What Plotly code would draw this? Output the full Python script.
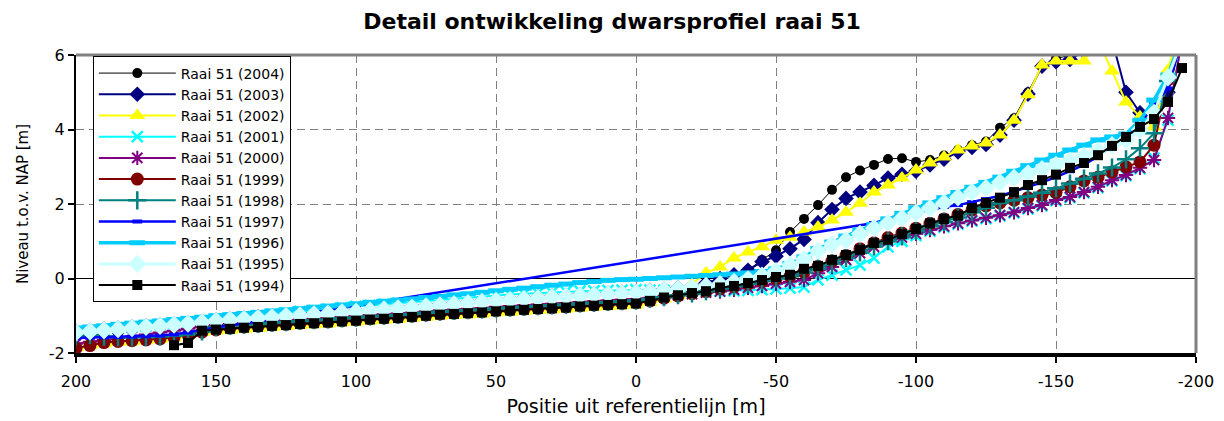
import plotly.graph_objects as go

# Position along the profile [m] (shared by all surveys)
X = [200, 195, 190, 185, 180, 175, 170, 165, 160, 155,
     150, 145, 140, 135, 130, 125, 120, 115, 110, 105,
     100, 95, 90, 85, 80, 75, 70, 65, 60, 55,
     50, 45, 40, 35, 30, 25, 20, 15, 10, 5,
     0, -5, -10, -15, -20, -25, -30, -35, -40, -45,
     -50, -55, -60, -65, -70, -75, -80, -85, -90, -95,
     -100, -105, -110, -115, -120, -125, -130, -135, -140, -145,
     -150, -155, -160, -165, -170, -175, -180, -185, -190, -195]

Y_2004 = [-1.45, -1.42, -1.39, -1.36, -1.33, -1.30, -1.27, -1.24, -1.21, -1.18,
          -1.14, -1.11, -1.09, -1.06, -1.04, -1.01, -0.99, -0.96, -0.94, -0.91,
          -0.89, -0.86, -0.83, -0.80, -0.78, -0.75, -0.72, -0.69, -0.66, -0.63,
          -0.60, -0.58, -0.55, -0.53, -0.50, -0.48, -0.46, -0.44, -0.42, -0.40,
          -0.38, -0.35, -0.32, -0.28, -0.24, -0.15, -0.05, 0.05, 0.23, 0.50,
          0.76, 1.25, 1.60, 1.97, 2.38, 2.72, 2.90, 3.05, 3.21, 3.23,
          3.13, 3.18, 3.30, 3.45, 3.58, 3.68, 4.05, 4.30, 5.00, 5.70,
          5.90, 6.00, 6.30, 6.90, None, None, None, None, None, None]

Y_2003 = [-1.42, -1.39, -1.36, -1.33, -1.30, -1.27, -1.24, -1.21, -1.18, -1.15,
          -1.11, -1.08, -1.06, -1.03, -1.01, -0.98, -0.96, -0.93, -0.91, -0.88,
          -0.86, -0.83, -0.80, -0.77, -0.75, -0.72, -0.69, -0.66, -0.63, -0.60,
          -0.57, -0.55, -0.52, -0.50, -0.47, -0.45, -0.43, -0.41, -0.39, -0.37,
          -0.35, -0.32, -0.29, -0.25, -0.21, -0.12, 0.00, 0.10, 0.22, 0.45,
          0.60, 0.80, 1.05, 1.50, 1.85, 2.15, 2.32, 2.50, 2.70, 2.80,
          2.88, 3.05, 3.20, 3.40, 3.52, 3.60, 3.85, 4.25, 4.95, 5.70,
          5.82, 5.88, 6.10, 6.70, 6.40, 5.00, 4.45, 4.50, 5.00, 6.50]

Y_2002 = [-1.85, -1.80, -1.75, -1.72, -1.70, -1.67, -1.64, -1.60, -1.52, -1.44,
          -1.41, -1.39, -1.36, -1.34, -1.31, -1.29, -1.26, -1.24, -1.22, -1.19,
          -1.17, -1.14, -1.12, -1.10, -1.07, -1.04, -1.01, -0.99, -0.97, -0.95,
          -0.92, -0.90, -0.88, -0.86, -0.84, -0.82, -0.79, -0.77, -0.75, -0.73,
          -0.71, -0.64, -0.55, -0.45, -0.15, 0.15, 0.31, 0.55, 0.71, 0.85,
          1.03, 1.11, 1.25, 1.38, 1.57, 1.78, 2.02, 2.32, 2.51, 2.70,
          2.91, 3.10, 3.26, 3.45, 3.56, 3.64, 3.85, 4.25, 4.93, 5.73,
          5.84, 5.84, 5.84, 6.40, 5.57, 4.74, 4.34, 4.07, 5.60, 7.00]

Y_2001 = [-1.45, -1.42, -1.38, -1.35, -1.31, -1.28, -1.24, -1.21, -1.17, -1.14,
          -1.10, -1.07, -1.03, -1.00, -0.96, -0.93, -0.89, -0.86, -0.82, -0.79,
          -0.75, -0.72, -0.69, -0.66, -0.63, -0.60, -0.57, -0.54, -0.51, -0.48,
          -0.45, -0.43, -0.41, -0.39, -0.37, -0.35, -0.34, -0.33, -0.32, -0.31,
          -0.30, -0.31, -0.32, -0.33, -0.34, -0.34, -0.34, -0.33, -0.32, -0.30,
          -0.28, -0.26, -0.23, -0.04, 0.09, 0.23, 0.36, 0.55, 0.85, 1.00,
          1.15, 1.27, 1.38, 1.46, 1.54, 1.61, 1.68, 1.76, 1.87, 1.95,
          2.09, 2.17, 2.30, 2.44, 2.62, 2.76, 2.95, 3.23, 4.25, 6.40]

Y_2000 = [-1.75, -1.70, -1.65, -1.60, -1.55, -1.50, -1.45, -1.40, -1.35, -1.28,
          -1.25, -1.22, -1.20, -1.18, -1.15, -1.13, -1.10, -1.08, -1.06, -1.03,
          -1.01, -0.98, -0.96, -0.94, -0.91, -0.88, -0.85, -0.83, -0.81, -0.79,
          -0.76, -0.74, -0.72, -0.70, -0.68, -0.66, -0.63, -0.61, -0.59, -0.57,
          -0.55, -0.52, -0.48, -0.45, -0.42, -0.38, -0.35, -0.30, -0.25, -0.20,
          -0.14, -0.09, -0.04, 0.14, 0.31, 0.50, 0.68, 0.85, 1.00, 1.10,
          1.20, 1.30, 1.40, 1.48, 1.56, 1.63, 1.70, 1.78, 1.89, 1.97,
          2.11, 2.19, 2.32, 2.46, 2.64, 2.78, 2.97, 3.18, 4.31, 6.40]

Y_1999 = [-1.87, -1.80, -1.72, -1.69, -1.67, -1.65, -1.62, -1.58, -1.52, -1.44,
          -1.38, -1.33, -1.30, -1.28, -1.25, -1.23, -1.20, -1.18, -1.16, -1.13,
          -1.11, -1.08, -1.06, -1.04, -1.01, -0.98, -0.95, -0.93, -0.91, -0.89,
          -0.86, -0.84, -0.82, -0.80, -0.78, -0.76, -0.73, -0.71, -0.69, -0.67,
          -0.65, -0.60, -0.53, -0.47, -0.41, -0.35, -0.28, -0.22, -0.15, -0.08,
          -0.01, 0.06, 0.18, 0.32, 0.47, 0.62, 0.80, 0.96, 1.10, 1.22,
          1.35, 1.48, 1.60, 1.72, 1.84, 1.95, 2.03, 2.10, 2.17, 2.24,
          2.31, 2.46, 2.62, 2.72, 2.86, 3.00, 3.13, 3.58, 5.33, 6.50]

Y_1998 = [-1.55, -1.52, -1.56, -1.58, -1.58, -1.57, -1.56, -1.54, -1.50, -1.42,
          -1.30, -1.27, -1.24, -1.22, -1.19, -1.17, -1.14, -1.12, -1.10, -1.07,
          -1.05, -1.02, -1.00, -0.98, -0.95, -0.92, -0.89, -0.87, -0.85, -0.83,
          -0.80, -0.78, -0.76, -0.74, -0.72, -0.70, -0.67, -0.65, -0.63, -0.61,
          -0.59, -0.55, -0.50, -0.45, -0.40, -0.34, -0.27, -0.21, -0.14, -0.07,
          0.00, 0.06, 0.16, 0.27, 0.40, 0.55, 0.70, 0.86, 1.00, 1.13,
          1.27, 1.40, 1.52, 1.64, 1.78, 1.90, 2.03, 2.10, 2.20, 2.30,
          2.42, 2.55, 2.68, 2.82, 2.98, 3.20, 3.50, 3.90, 5.30, 6.50]

Y_1997 = [-1.60, -1.59, -1.58, -1.57, -1.56, -1.55, -1.53, -1.50, -1.45, -1.38,
          -1.31, -1.26, -1.21, -1.15, -1.09, -1.03, -0.97, -0.91, -0.85, -0.79,
          -0.73, -0.67, -0.61, None, None, None, None, None, None, None,
          None, None, None, None, None, None, None, None, None, None,
          None, None, None, None, None, None, None, None, None, None,
          None, None, None, None, None, None, None, 1.49, 1.60, 1.68,
          1.76, 1.85, 1.92, 1.97, 2.05, 2.13, 2.22, 2.33, 2.45, 2.58,
          2.72, 2.88, 3.05, 3.28, 3.55, 3.83, 4.10, 4.70, 5.10, 6.50]

Y_1996 = [-1.33, -1.30, -1.27, -1.23, -1.20, -1.17, -1.14, -1.10, -1.07, -1.04,
          -1.00, -0.97, -0.94, -0.91, -0.87, -0.84, -0.81, -0.77, -0.74, -0.71,
          -0.68, -0.64, -0.61, -0.58, -0.55, -0.51, -0.48, -0.44, -0.41, -0.37,
          -0.33, -0.29, -0.26, -0.22, -0.18, -0.15, -0.11, -0.08, -0.05, -0.03,
          -0.02, 0.00, 0.02, 0.04, 0.06, 0.08, 0.10, 0.12, 0.15, 0.19,
          0.26, 0.40, 0.58, 0.80, 0.98, 1.14, 1.30, 1.45, 1.60, 1.75,
          1.90, 2.03, 2.17, 2.31, 2.45, 2.58, 2.72, 2.88, 3.03, 3.18,
          3.31, 3.45, 3.58, 3.72, 3.80, 3.88, 4.25, 4.79, 5.46, 6.50]

Y_1995 = [-1.45, -1.42, -1.39, -1.36, -1.33, -1.30, -1.27, -1.24, -1.21, -1.18,
          -1.14, -1.11, -1.09, -1.06, -1.04, -1.01, -0.99, -0.96, -0.94, -0.91,
          -0.89, -0.86, -0.83, -0.80, -0.78, -0.75, -0.72, -0.69, -0.66, -0.63,
          -0.60, -0.58, -0.55, -0.53, -0.50, -0.48, -0.46, -0.44, -0.42, -0.40,
          -0.38, -0.35, -0.32, -0.28, -0.24, -0.20, -0.15, -0.09, -0.02, 0.08,
          0.20, 0.36, 0.52, 0.74, 0.92, 1.03, 1.20, 1.35, 1.49, 1.62,
          1.76, 1.89, 2.03, 2.18, 2.32, 2.43, 2.58, 2.70, 2.82, 2.94,
          3.05, 3.16, 3.28, 3.42, 3.58, 3.72, 3.99, 4.45, 5.40, 6.40]

Y_1994 = [None, None, None, None, None, None, None, -1.79, -1.73, -1.40,
          -1.37, -1.35, -1.32, -1.30, -1.27, -1.25, -1.22, -1.20, -1.18, -1.15,
          -1.13, -1.10, -1.08, -1.06, -1.03, -1.00, -0.97, -0.95, -0.93, -0.91,
          -0.88, -0.86, -0.84, -0.82, -0.80, -0.78, -0.75, -0.73, -0.71, -0.69,
          -0.67, -0.60, -0.51, -0.45, -0.39, -0.34, -0.24, -0.20, -0.12, -0.04,
          0.04, 0.10, 0.26, 0.34, 0.50, 0.63, 0.77, 0.95, 1.04, 1.19,
          1.33, 1.48, 1.60, 1.69, 1.89, 2.03, 2.17, 2.32, 2.51, 2.64,
          2.79, 2.97, 3.10, 3.31, 3.56, 3.80, 4.07, 4.28, 4.74, 5.65]

NAMES = ["Raai 51 (2004)", "Raai 51 (2003)", "Raai 51 (2002)", "Raai 51 (2001)",
         "Raai 51 (2000)", "Raai 51 (1999)", "Raai 51 (1998)", "Raai 51 (1997)",
         "Raai 51 (1996)", "Raai 51 (1995)", "Raai 51 (1994)"]
SERIES = [Y_2004, Y_2003, Y_2002, Y_2001, Y_2000, Y_1999, Y_1998, Y_1997,
          Y_1996, Y_1995, Y_1994]

X_TICKS = [200, 150, 100, 50, 0, -50, -100, -150, -200]
Y_TICKS = [-2, 0, 2, 4, 6]

# style per series: colour, line width, marker symbol, marker size, marker line width
STYLES = [
    ("#000000", 1, "circle", 10, 0),
    ("#000080", 2, "diamond", 12, 0),
    ("#FFFF00", 2, "triangle-up", 14, 0),
    ("#00FFFF", 2, "x-thin", 11, 2.5),
    ("#800080", 2, "asterisk", 12, 2),
    ("#800000", 2, "circle", 13, 0),
    ("#008080", 2, "cross-thin", 13, 2.5),
    ("#0000FF", 2.5, "line-ew", 7, 4),
    ("#00CCFF", 3.5, "line-ew", 11, 5),
    ("#CCFFFF", 3, "diamond", 14, 0),
    ("#000000", 2, "square", 10, 0),
]

FONT = "DejaVu Sans, Liberation Sans, Arial, sans-serif"
GRID_DASH = "8px,5px"

fig = go.Figure()
for name, ys, (col, lw, sym, ms, mlw) in zip(NAMES, SERIES, STYLES):
    marker = dict(symbol=sym, size=ms, color=col)
    if mlw:
        marker["line"] = dict(color=col, width=mlw)
    fig.add_trace(go.Scatter(
        x=X, y=ys, name=name, mode="lines+markers",
        line=dict(color=col, width=lw),
        marker=marker, connectgaps=True,
    ))

fig.update_layout(
    width=1224, height=421,
    margin=dict(l=76, r=28, t=55, b=68, autoexpand=False),
    paper_bgcolor="white", plot_bgcolor="white",
    font=dict(family=FONT, color="black", size=16),
    title=dict(text="<b>Detail ontwikkeling dwarsprofiel raai 51</b>",
               x=0.5, xref="container", xanchor="center",
               y=1 - 21 / 421, yref="container", yanchor="middle",
               font=dict(family=FONT, size=22, color="black")),
    legend=dict(x=0.015, y=0.995, xanchor="left", yanchor="top",
                bgcolor="white", bordercolor="black", borderwidth=1,
                font=dict(family=FONT, size=14, color="black"),
                tracegroupgap=0, itemwidth=77),
    showlegend=True,
    shapes=[
        dict(type="line", xref="paper", yref="paper", x0=0, x1=1, y0=1, y1=1,
             line=dict(color="#808080", width=3), layer="above"),
        dict(type="line", xref="paper", yref="paper", x0=1, x1=1, y0=0, y1=1,
             line=dict(color="#808080", width=3), layer="above"),
    ],
)

fig.update_xaxes(
    range=[200, -200], tickvals=X_TICKS, ticktext=[str(v) for v in X_TICKS],
    ticks="outside", ticklen=6, tickwidth=2, tickcolor="black",
    ticklabelstandoff=5, automargin=False,
    showline=True, linecolor="black", linewidth=4,
    showgrid=True, gridcolor="#808080", griddash=GRID_DASH, gridwidth=1,
    zeroline=False,
    tickfont=dict(family=FONT, size=16, color="black"),
    title=dict(text="Positie uit referentielijn [m]", standoff=10,
               font=dict(family=FONT, size=19, color="black")),
)
fig.update_yaxes(
    range=[-2, 6], tickvals=Y_TICKS, ticktext=[str(v) for v in Y_TICKS],
    ticks="outside", ticklen=6, tickwidth=2, tickcolor="black",
    automargin=False,
    showline=True, linecolor="black", linewidth=2,
    showgrid=True, gridcolor="#808080", griddash=GRID_DASH, gridwidth=1,
    zeroline=True, zerolinecolor="black", zerolinewidth=1,
    tickfont=dict(family=FONT, size=16, color="black"),
    title=dict(text="Niveau t.o.v. NAP [m]", standoff=17,
               font=dict(family=FONT, size=15, color="black")),
)

fig.write_html("out.html")
